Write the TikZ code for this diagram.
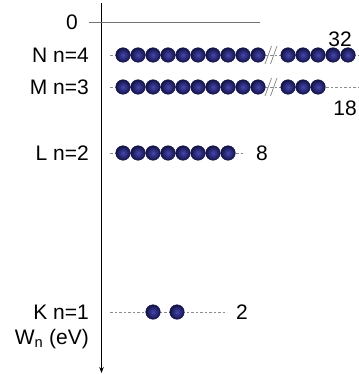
\documentclass[tikz,border=0pt]{standalone}
\usepackage{fontspec}
\setmainfont{Liberation Sans}
\usetikzlibrary{arrows.meta}
\definecolor{navy}{RGB}{38,38,130}
\definecolor{navydark}{RGB}{18,18,70}
\definecolor{navylight}{RGB}{70,70,175}
\tikzset{
  label/.style={anchor=east, inner sep=0pt, font=\fontsize{21}{25}\selectfont},
  count/.style={inner sep=0pt, font=\fontsize{21}{25}\selectfont},
  electron/.style={circle, minimum size=14.6pt, inner sep=0pt, draw=navydark, line width=0.4pt,
    inner color=navylight, outer color=navydark},
  level/.style={draw=black!45, line width=0.6pt, dash pattern=on 2.5pt off 2pt},
  breakmark/.style={draw=black!50, line width=0.7pt},
}
\begin{document}
\begin{tikzpicture}[x=1pt,y=-1pt]
  \useasboundingbox (0,0) rectangle (358,374);

  % energy axis and zero level
  \coordinate (axtop) at (101.5,3);
  \coordinate (axbot) at (101.5,373);
  \draw[line width=0.8pt, -{Stealth[length=6pt,width=4.5pt]}] (axtop) -- (axbot);
  \coordinate (z0) at (89,22);
  \coordinate (z1) at (260,22);
  \draw[draw=black!55, line width=0.8pt] (z0) -- (z1);

  % shell labels
  \node[count, anchor=east] (zero) at (78,22) {0};
  \node[label] (lN) at (89,55) {N n=4};
  \node[label] (lM) at (89,87) {M n=3};
  \node[label] (lL) at (89,153) {L n=2};
  \node[label] (lK) at (89,312) {K n=1};
  \node[label] (lW) at (89,339) {W\textsubscript{n} (eV)};

  % level lines (drawn first, electrons sit on top)
  \coordinate (Nl) at (110,55);
  \coordinate (Nr) at (358,55);
  \coordinate (Ml) at (110,87);
  \coordinate (Mr) at (358,87);
  \coordinate (Ll) at (110,153);
  \coordinate (Lr) at (243,153);
  \coordinate (Kl) at (110,312);
  \coordinate (Kr) at (227,312);
  \draw[level] (Nl) -- (Nr);
  \draw[level] (Ml) -- (Mr);
  \draw[level] (Ll) -- (Lr);
  \draw[level] (Kl) -- (Kr);

  % N shell: 32 electrons, shown with a break
  \foreach \k in {0,...,9} \node[electron] (N\k) at (123+15*\k,55) {};
  \fill[white] (266.5,48) rectangle (280,62);
  \draw[level] (N9) -- (281,55);
  \foreach \k in {0,...,4} \node[electron] (Nb\k) at (288+15*\k,55) {};
  \draw[breakmark] (265,64) -- (271.5,46);
  \draw[breakmark] (270.5,64) -- (277,46);
  \node[count] (n32) at (340,39) {32};

  % M shell: 18 electrons, shown with a break
  \foreach \k in {0,...,9} \node[electron] (M\k) at (123+15*\k,87) {};
  \fill[white] (266.5,80) rectangle (280,94);
  \draw[level] (M9) -- (281,87);
  \foreach \k in {0,...,2} \node[electron] (Mb\k) at (288+15*\k,87) {};
  \draw[breakmark] (265,96) -- (271.5,78);
  \draw[breakmark] (270.5,96) -- (277,78);
  \node[count] (n18) at (345,108) {18};

  % L shell: 8 electrons
  \foreach \k in {0,...,7} \node[electron] (L\k) at (123+15*\k,153) {};
  \node[count] (n8) at (262,153) {8};

  % K shell: 2 electrons
  \node[electron] (K0) at (153,312) {};
  \node[electron] (K1) at (177,312) {};
  \node[count] (n2) at (242,312) {2};
\end{tikzpicture}
\end{document}
